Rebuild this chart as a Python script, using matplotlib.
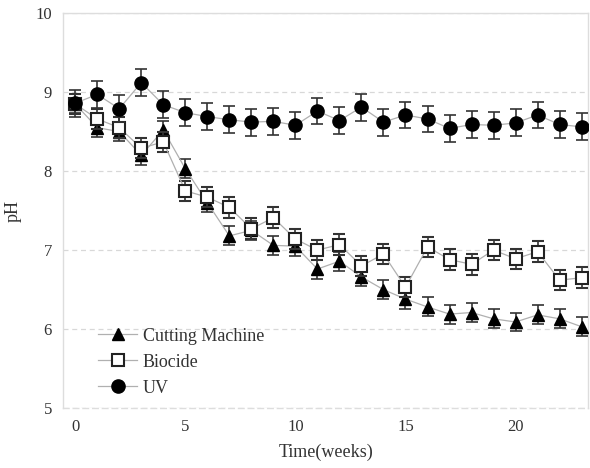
import matplotlib
matplotlib.use("Agg")
import matplotlib.pyplot as plt
from matplotlib.lines import Line2D

weeks = list(range(24))
cutting = [8.85, 8.55, 8.50, 8.20, 8.52, 8.03, 7.60, 7.18, 7.25, 7.06, 7.05, 6.76,
           6.86, 6.66, 6.50, 6.38, 6.28, 6.19, 6.21, 6.13, 6.09, 6.18, 6.13, 6.03]
biocide = [8.85, 8.66, 8.55, 8.29, 8.37, 7.75, 7.67, 7.54, 7.27, 7.41, 7.14, 7.00,
           7.07, 6.80, 6.95, 6.53, 7.04, 6.88, 6.82, 7.00, 6.89, 6.98, 6.62, 6.65]
uv = [8.86, 8.97, 8.79, 9.12, 8.84, 8.74, 8.69, 8.65, 8.62, 8.63, 8.58, 8.76,
      8.64, 8.81, 8.62, 8.71, 8.66, 8.54, 8.59, 8.58, 8.61, 8.71, 8.59, 8.56]
err_cut = 0.12
err_bio = 0.13
err_uv = 0.17

plt.rcParams['font.family'] = ['Liberation Serif', 'DejaVu Serif']

fig = plt.figure(figsize=(5.9, 4.68), dpi=100)
ax = fig.add_axes([0.107, 0.128, 0.890, 0.844])

line_kw = dict(color='#b0b0b0', lw=0.9, capsize=4, capthick=1.2,
               ecolor='#333333', elinewidth=1.2)
ax.errorbar(weeks, cutting, yerr=err_cut, marker='^', ms=9, mfc='black', mec='black',
            zorder=3, **line_kw)
ax.errorbar(weeks, biocide, yerr=err_bio, marker='s', ms=8.5, mfc='white', mec='#222222',
            mew=1.5, zorder=4, **line_kw)
ax.errorbar(weeks, uv, yerr=err_uv, marker='o', ms=9.5, mfc='black', mec='black',
            zorder=5, **line_kw)

ax.set_xlim(-0.55, 23.3)
ax.set_ylim(5, 10)
ax.set_xticks([0, 5, 10, 15, 20])
ax.set_yticks([5, 6, 7, 8, 9, 10])
ax.tick_params(length=0, labelsize=12, labelcolor='#333333', pad=8)
for s in ax.spines.values():
    s.set_color('#dddddd')
    s.set_linewidth(1.0)
ax.spines['bottom'].set_linestyle((0, (4, 3)))
ax.grid(axis='y', color='#d8d8d8', ls=(0, (4, 3)), lw=0.9)
ax.set_axisbelow(True)
ax.set_xlabel('Time(weeks)', fontsize=13, color='#333333', labelpad=6)
ax.set_ylabel('pH', fontsize=13, color='#333333', labelpad=10)

handles = [
    Line2D([], [], color='#b0b0b0', lw=0.9, marker='^', ms=9, mfc='black', mec='black'),
    Line2D([], [], color='#b0b0b0', lw=0.9, marker='s', ms=8.5, mfc='white', mec='#222222', mew=1.5),
    Line2D([], [], color='#b0b0b0', lw=0.9, marker='o', ms=9.5, mfc='black', mec='black'),
]
labels = ['Cutting Machine', 'Biocide', 'UV']
ax.legend(handles, labels, loc='lower left', bbox_to_anchor=(0.035, -0.012), frameon=False,
          fontsize=13, handlelength=2.2, handletextpad=0.3, labelspacing=0.5,
          labelcolor='#333333')

fig.savefig('out.png', dpi=100)
